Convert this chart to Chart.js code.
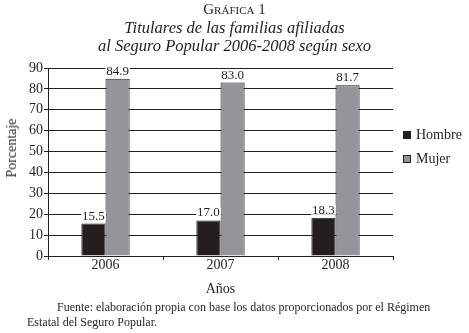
<!DOCTYPE html>
<html>
<head>
<meta charset="utf-8">
<script src="https://cdn.jsdelivr.net/npm/chart.js@4.4.0/dist/chart.umd.min.js"></script>
<style>
  html, body { margin: 0; padding: 0; background: #fff; }
  #wrap { position: relative; width: 469px; height: 333px; overflow: hidden; font-family: "Liberation Serif", "DejaVu Serif", serif; color: #231f20; }
  #c { position: absolute; left: 0; top: 0; }
  .t { position: absolute; left: 0; width: 469px; text-align: center; white-space: nowrap; }
  #t0 { top: 1px; font-size: 15px; font-variant: small-caps; }
  #t1 { top: 18px; font-size: 16.5px; font-style: italic; }
  #t2 { top: 36px; font-size: 16.5px; font-style: italic; }
  #ytitle { position: absolute; left: 12px; top: 148px; font-size: 14px; transform: translate(-50%, -50%) rotate(-90deg); white-space: nowrap; }
  .lg { position: absolute; left: 403px; font-size: 14px; white-space: nowrap; }
  .lg span.b { display: inline-block; width: 8px; height: 8px; box-sizing: border-box; margin-right: 5px; vertical-align: 0px; border: 1px solid #231f20; }
  .src { position: absolute; font-size: 12px; white-space: nowrap; }
</style>
</head>
<body>
<div id="wrap">
  <canvas id="c" width="469" height="333"></canvas>
  <div class="t" id="t0">Gráfica 1</div>
  <div class="t" id="t1">Titulares de las familias afiliadas</div>
  <div class="t" id="t2">al Seguro Popular 2006-2008 según sexo</div>
  <div id="ytitle">Porcentaje</div>
  <div class="lg" id="lg1" style="top:127px"><span class="b" style="background:#231f20"></span>Hombre</div>
  <div class="lg" id="lg2" style="top:151px"><span class="b" style="background:#939598"></span>Mujer</div>
  <div class="src" style="left:57px; top:300px">Fuente: elaboración propia con base los datos proporcionados por el Régimen</div>
  <div class="src" style="left:27px; top:315px">Estatal del Seguro Popular.</div>
</div>
<script>
const categories = ["2006", "2007", "2008"];
const hombre = [15.5, 17.0, 18.3];
const mujer = [84.9, 83.0, 81.7];
const seriesNames = ["Hombre", "Mujer"];
const yTicks = [0, 10, 20, 30, 40, 50, 60, 70, 80, 90];

const INK = "#231f20";
const SERIF = "'Liberation Serif', 'DejaVu Serif', serif";

const valueLabels = {
  id: "valueLabels",
  afterDatasetsDraw(chart) {
    const ctx = chart.ctx;
    ctx.save();
    ctx.font = "13px " + SERIF;
    ctx.textAlign = "center";
    ctx.textBaseline = "alphabetic";
    chart.data.datasets.forEach((ds, di) => {
      const meta = chart.getDatasetMeta(di);
      meta.data.forEach((el, i) => {
        const txt = ds.data[i].toFixed(1);
        const w = ctx.measureText(txt).width;
        const base = el.y - 4;
        ctx.fillStyle = "#fff";
        ctx.fillRect(el.x - w / 2 - 1, base - 9, w + 2, 10);
        ctx.fillStyle = INK;
        ctx.fillText(txt, el.x, base);
      });
    });
    ctx.restore();
  }
};

new Chart(document.getElementById("c"), {
  type: "bar",
  data: {
    labels: categories,
    datasets: [
      { label: seriesNames[0], data: hombre, backgroundColor: INK, borderColor: INK, borderWidth: 1 },
      { label: seriesNames[1], data: mujer, backgroundColor: "#939598", borderColor: INK, borderWidth: 1 }
    ]
  },
  options: {
    responsive: false,
    animation: false,
    devicePixelRatio: 1,
    layout: { padding: { top: 68, left: 0, right: 76, bottom: 35 } },
    plugins: { legend: { display: false }, title: { display: false }, tooltip: { enabled: false } },
    datasets: { bar: { categoryPercentage: 0.42, barPercentage: 1 } },
    scales: {
      x: {
        offset: true,
        afterFit(s) { s.height = 42; },
        grid: {
          offset: true,
          drawTicks: true,
          tickLength: 4,
          lineWidth: 1,
          color: (c) => (c.index === categories.length ? INK : "rgba(0,0,0,0)"),
          tickColor: INK
        },
        border: { display: true, color: INK, width: 1 },
        ticks: { color: INK, font: { family: SERIF, size: 14 }, padding: -3 },
        title: { display: true, text: "Años", color: INK, font: { family: SERIF, size: 14 }, padding: 0 }
      },
      y: {
        min: 0, max: 90,
        afterFit(s) { s.width = 48; },
        afterBuildTicks(s) { s.ticks = yTicks.map(v => ({ value: v })); },
        grid: { color: INK, lineWidth: 1, drawTicks: true, tickLength: 4, tickColor: INK },
        border: { display: true, color: INK, width: 1 },
        ticks: { color: INK, font: { family: SERIF, size: 14 }, padding: 1 }
      }
    }
  },
  plugins: [valueLabels]
});
</script>
</body>
</html>
